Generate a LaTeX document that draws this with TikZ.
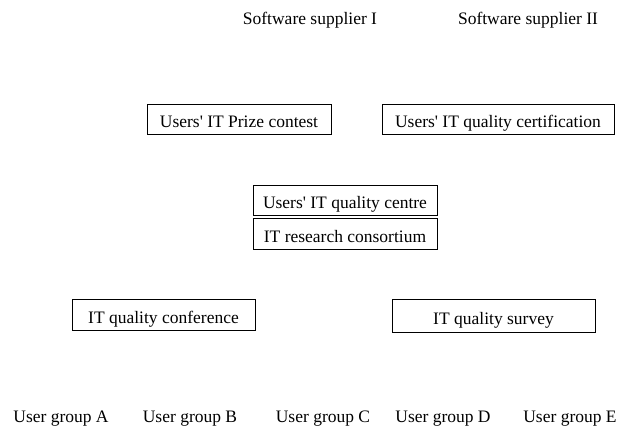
\documentclass[tikz,border=0pt]{standalone}
\usepackage{fontspec}
\setmainfont{Liberation Serif}
\newcommand{\apos}{\textquotesingle}
\begin{document}
\begin{tikzpicture}[x=1pt,y=-1pt,
  box/.style={draw=black,line width=1pt,inner sep=0pt,text height=15.4pt,text depth=0pt,font=\fontsize{17.5}{20}\selectfont},
  lbl/.style={inner sep=0pt,anchor=base,font=\fontsize{17.5}{20}\selectfont}]
\useasboundingbox[fill=white] (0,0) rectangle (618,427);
\node[lbl] (s1) at (310,25) {Software supplier I};
\node[lbl] (s2) at (528,25) {Software supplier II};
\node[box,minimum width=184,minimum height=30] (prize) at (239,120) {Users\apos{} IT Prize contest};
\node[box,minimum width=232,minimum height=30] (cert) at (498,120) {Users\apos{} IT quality certification};
\node[box,minimum width=184,minimum height=30] (centre) at (345,201) {Users\apos{} IT quality centre};
\node[box,minimum width=184,minimum height=31] (cons) at (345,234.5) {IT research consortium};
\node[box,minimum width=183,minimum height=31] (conf) at (163.5,315.5) {IT quality conference};
\node[box,minimum width=203,minimum height=33] (survey) at (493.5,316.5) {IT quality survey};
\node[lbl] (ga) at (61,422) {User group A};
\node[lbl] (gb) at (190,422) {User group B};
\node[lbl] (gc) at (323,422) {User group C};
\node[lbl] (gd) at (443,422) {User group D};
\node[lbl] (ge) at (570,422) {User group E};
\end{tikzpicture}
\end{document}
